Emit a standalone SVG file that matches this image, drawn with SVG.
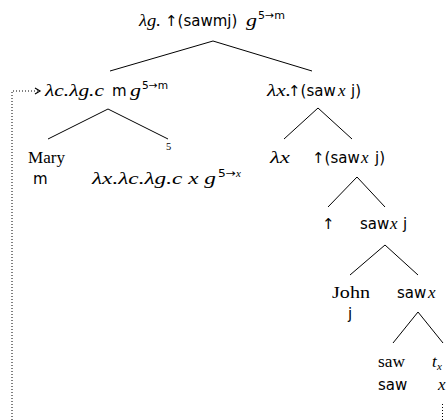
<svg xmlns="http://www.w3.org/2000/svg" width="448" height="420" viewBox="0 0 448 420">
<style>
text{font-family:"Liberation Serif",serif;font-size:16px;fill:#000}
.it{font-family:"Liberation Serif",serif;font-style:italic;font-size:17px}
.sf{font-family:"DejaVu Sans",sans-serif;font-size:15px}
.sup{font-family:"DejaVu Sans",sans-serif;font-size:10.5px}
.br{stroke:#000;stroke-width:1;fill:none}
.dot{stroke:#000;stroke-width:1;fill:none;stroke-dasharray:1 2}
</style>
<defs>
<marker id="ah" markerWidth="8" markerHeight="8" refX="6" refY="4" orient="auto" markerUnits="userSpaceOnUse">
<path d="M1,1 L6,4 L1,7" fill="none" stroke="#000" stroke-width="1.2"/>
</marker>
</defs>
<g id="connectors">
<path class="br" d="M110,71 L213,41 L312,71"/>
<path class="br" d="M48,139 L108,109 L168,139"/>
<path class="br" d="M284,139 L318,108 L352,139"/>
<path class="br" d="M328,207 L357,177 L385,207"/>
<path class="br" d="M350,275 L385,245 L418,275"/>
<path class="br" d="M393,343 L418,312 L443,343"/>
<path class="dot" d="M12,420 V91 H40" marker-end="url(#ah)"/>
<path class="dot" d="M442.5,404 V420"/>
</g>
<g id="root">
<text class="it" x="139" y="26" textLength="22" lengthAdjust="spacingAndGlyphs">λg.</text>
<text class="sf" x="165" y="26">↑(sawmj)</text>
<text class="it" x="246" y="26" textLength="11" lengthAdjust="spacingAndGlyphs">g</text>
<text class="sup" x="258" y="19" textLength="27" lengthAdjust="spacingAndGlyphs">5→m</text>
</g>
<g id="n-lc">
<text class="it" x="45" y="96" textLength="59" lengthAdjust="spacingAndGlyphs">λc.λg.c</text>
<text class="sf" x="112" y="96">m</text>
<text class="it" x="130" y="96" textLength="11" lengthAdjust="spacingAndGlyphs">g</text>
<text class="sup" x="142" y="89" textLength="26" lengthAdjust="spacingAndGlyphs">5→m</text>
</g>
<g id="n-lx">
<text class="it" x="267" y="96" textLength="24" lengthAdjust="spacingAndGlyphs">λx.</text>
<text class="sf" x="288" y="96">↑(saw</text>
<text class="it" x="338" y="96">x</text>
<text class="sf" x="351" y="96">j)</text>
</g>
<g id="n-mary">
<text x="28" y="163" textLength="37" lengthAdjust="spacingAndGlyphs">Mary</text>
<text class="sf" x="33" y="184">m</text>
</g>
<g id="n-5">
<text x="166" y="150" style="font-size:10.5px">5</text>
<text class="it" x="92" y="184" textLength="124" lengthAdjust="spacingAndGlyphs">λx.λc.λg.c x g</text>
<text class="sup" x="218" y="177" textLength="18" lengthAdjust="spacingAndGlyphs">5→</text>
<text class="it" x="236" y="177" style="font-size:11px">x</text>
</g>
<g id="n-lambda-x">
<text class="it" x="270" y="163" textLength="20" lengthAdjust="spacingAndGlyphs">λx</text>
</g>
<g id="n-up-saw">
<text class="sf" x="312" y="163">↑(saw</text>
<text class="it" x="361" y="163">x</text>
<text class="sf" x="375" y="163">j)</text>
</g>
<g id="n-up"><text class="sf" x="322" y="229">↑</text></g>
<g id="n-sawxj">
<text class="sf" x="360" y="229">saw</text>
<text class="it" x="390" y="229">x</text>
<text class="sf" x="403" y="229">j</text>
</g>
<g id="n-john">
<text x="332" y="298" textLength="38" lengthAdjust="spacingAndGlyphs">John</text>
<text class="sf" x="348" y="319">j</text>
</g>
<g id="n-sawx">
<text class="sf" x="397" y="298">saw</text>
<text class="it" x="428" y="298">x</text>
</g>
<g id="n-saw">
<text x="378" y="367" textLength="27" lengthAdjust="spacingAndGlyphs">saw</text>
<text class="sf" x="378" y="390">saw</text>
</g>
<g id="n-tx">
<text class="it" x="432" y="367">t</text>
<text class="it" x="437" y="370" style="font-size:11px">x</text>
<text class="it" x="438" y="390">x</text>
</g>
</svg>
